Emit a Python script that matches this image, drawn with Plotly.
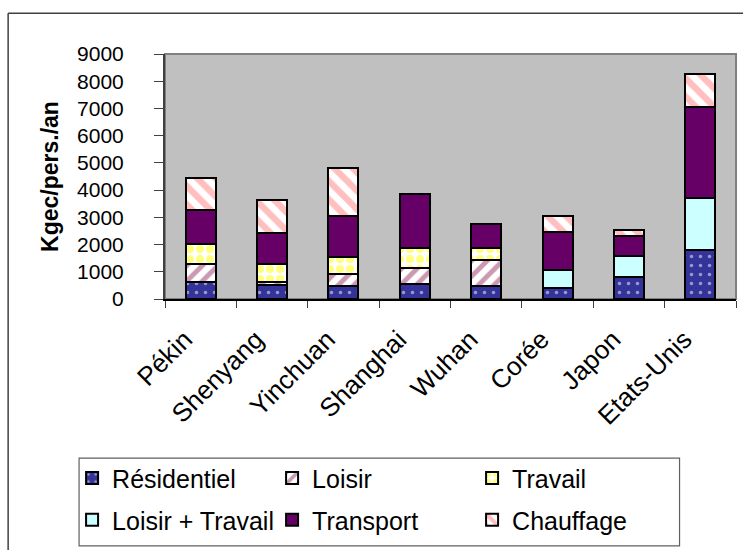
import plotly.graph_objects as go

# Energy use per person and per year, broken down by use
villes = ["Pékin", "Shenyang", "Yinchuan", "Shanghai", "Wuhan", "Corée", "Japon", "Etats-Unis"]
residentiel = [620, 500, 490, 550, 490, 420, 790, 1800]
loisir = [670, 120, 440, 590, 950, None, None, None]
travail = [730, 670, 630, 730, 430, None, None, None]
loisir_travail = [None, None, None, None, None, 650, 800, 1910]
transport = [1250, 1120, 1490, 1990, 900, 1400, 720, 3360]
chauffage = [1180, 1220, 1770, None, None, 590, 220, 1200]

y_ticks = [0, 1000, 2000, 3000, 4000, 5000, 6000, 7000, 8000, 9000]

FONT = "Liberation Sans, Arial, sans-serif"

# (name, values, fill pattern, legend row)
series = [
    ("Résidentiel", residentiel, dict(shape=".", fgcolor="#FFFFFF", bgcolor="#333399", size=9, solidity=0.12), "legend"),
    ("Loisir", loisir, dict(shape="/", fgcolor="#993366", bgcolor="#FFFFFF", size=11, solidity=0.45), "legend"),
    ("Travail", travail, dict(shape=".", fgcolor="#FFFF00", bgcolor="#FFFFFF", size=10, solidity=0.5), "legend"),
    ("Loisir + Travail", loisir_travail, dict(shape="", fgcolor="#CCFFFF", bgcolor="#CCFFFF"), "legend2"),
    ("Transport", transport, dict(shape="", fgcolor="#660066", bgcolor="#660066"), "legend2"),
    ("Chauffage", chauffage, dict(shape="\\", fgcolor="#FF8080", bgcolor="#FFFFFF", size=13, solidity=0.5), "legend2"),
]

fig = go.Figure()
for name, vals, pat, leg in series:
    solid = pat["shape"] == ""
    fig.add_trace(go.Bar(
        name=name,
        x=villes,
        y=vals,
        legend=leg,
        marker=dict(
            color=pat["bgcolor"],
            line=dict(color="#000000", width=2),
            pattern=None if solid else dict(
                shape=pat["shape"], fgcolor=pat["fgcolor"], bgcolor=pat["bgcolor"],
                size=pat["size"], solidity=pat["solidity"], fillmode="overlay"),
        ),
    ))

L, T = 165, 53.5
W, H = 571.5, 245.8


def px_x(px):
    return (px - L) / W


def px_y(py):
    return (T + H - py) / H


legend_common = dict(
    orientation="h",
    traceorder="normal",
    xanchor="left",
    yanchor="top",
    bgcolor="rgba(0,0,0,0)",
    borderwidth=0,
    font=dict(family=FONT, size=25, color="#000000"),
    entrywidth=155,
    entrywidthmode="pixels",
)

fig.update_layout(
    width=743, height=550,
    barmode="stack",
    bargap=0.58,
    paper_bgcolor="#FFFFFF",
    plot_bgcolor="#C0C0C0",
    margin=dict(l=L, r=743 - L - W, t=T, b=550 - T - H, pad=0),
    font=dict(family=FONT, size=21, color="#000000"),
    showlegend=True,
    legend=dict(legend_common, x=px_x(72), y=px_y(456)),
    legend2=dict(legend_common, x=px_x(72), y=px_y(498)),
    xaxis=dict(
        type="category",
        tickangle=-45,
        tickson="boundaries",
        ticks="outside",
        ticklen=7,
        tickcolor="#404040",
        showline=True,
        linecolor="#000000",
        linewidth=2,
        showgrid=False,
        tickfont=dict(family=FONT, size=26),
        ticklabelstandoff=13,
        ticklabelshift=-16,
    ),
    yaxis=dict(
        range=[0, 9000],
        tickvals=y_ticks,
        ticks="outside",
        ticklen=9,
        tickcolor="#404040",
        showline=True,
        linecolor="#404040",
        linewidth=2,
        showgrid=False,
        zeroline=False,
        tickfont=dict(family=FONT, size=21),
        ticklabelstandoff=26,
        title=dict(text="<b>Kgec/pers./an</b>", font=dict(family=FONT, size=23), standoff=12),
    ),
    shapes=[
        # gray frame around the plotting area
        dict(type="rect", xref="paper", yref="paper", x0=0, x1=1, y0=0, y1=1,
             line=dict(color="#808080", width=2), layer="below"),
        # legend box
        dict(type="rect", xref="paper", yref="paper",
             x0=px_x(79), x1=px_x(680), y0=px_y(547), y1=px_y(459),
             line=dict(color="#606060", width=1.2), fillcolor="rgba(0,0,0,0)"),
        # outer chart border
        dict(type="line", xref="paper", yref="paper",
             x0=px_x(8), x1=px_x(8), y0=px_y(560), y1=px_y(12.5),
             line=dict(color="#404040", width=1.5)),
        dict(type="line", xref="paper", yref="paper",
             x0=px_x(8), x1=px_x(760), y0=px_y(12.5), y1=px_y(12.5),
             line=dict(color="#404040", width=1.5)),
    ],
)

fig.write_html("out.html")
